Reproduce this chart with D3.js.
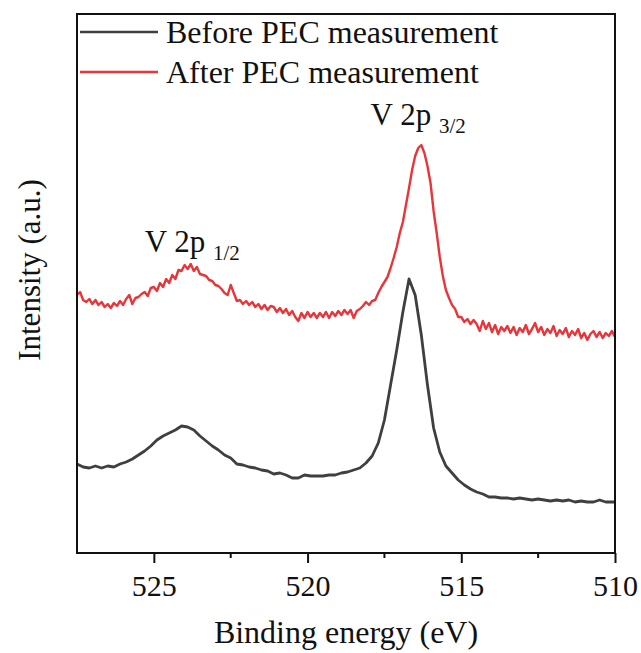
<!DOCTYPE html>
<html>
<head>
<meta charset="utf-8">
<script src="https://cdn.jsdelivr.net/npm/d3@7"></script>
<style>
  body { margin: 0; background: #fff; }
  text { font-family: "Liberation Serif", "Times New Roman", serif; fill: #111; }
</style>
</head>
<body>
<div id="chart"></div>
<script>
//////////////////////////////////////////////////////////////
//////////////////////////// Data ////////////////////////////
//////////////////////////////////////////////////////////////

// Binding energy grid of the "after" scan (eV, 0.1 eV step)
var energyAfter = [
  527.5,527.4,527.3,527.2,527.1,527.0,526.9,526.8,526.7,526.6,
  526.5,526.4,526.3,526.2,526.1,526.0,525.9,525.8,525.7,525.6,
  525.5,525.4,525.3,525.2,525.1,525.0,524.9,524.8,524.7,524.6,
  524.5,524.4,524.3,524.2,524.1,524.0,523.9,523.8,523.7,523.6,
  523.5,523.4,523.3,523.2,523.1,523.0,522.9,522.8,522.7,522.6,
  522.5,522.4,522.3,522.2,522.1,522.0,521.9,521.8,521.7,521.6,
  521.5,521.4,521.3,521.2,521.1,521.0,520.9,520.8,520.7,520.6,
  520.5,520.4,520.3,520.2,520.1,520.0,519.9,519.8,519.7,519.6,
  519.5,519.4,519.3,519.2,519.1,519.0,518.9,518.8,518.7,518.6,
  518.5,518.4,518.3,518.2,518.1,518.0,517.9,517.8,517.7,517.6,
  517.5,517.4,517.3,517.2,517.1,517.0,516.9,516.8,516.7,516.6,
  516.5,516.4,516.3,516.2,516.1,516.0,515.9,515.8,515.7,515.6,
  515.5,515.4,515.3,515.2,515.1,515.0,514.9,514.8,514.7,514.6,
  514.5,514.4,514.3,514.2,514.1,514.0,513.9,513.8,513.7,513.6,
  513.5,513.4,513.3,513.2,513.1,513.0,512.9,512.8,512.7,512.6,
  512.5,512.4,512.3,512.2,512.1,512.0,511.9,511.8,511.7,511.6,
  511.5,511.4,511.3,511.2,511.1,511.0,510.9,510.8,510.7,510.6,
  510.5,510.4,510.3,510.2,510.1,510.0
];

// After PEC measurement intensity (a.u., offset trace)
var intensityAfter = [
  258,261,253,251,254,249,253,248,251,246,
  249,245,250,247,252,248,254,258,249,255,
  256,259,261,257,265,266,262,270,266,274,
  270,278,274,283,282,288,284,289,282,286,
  279,278,277,273,272,268,267,264,260,258,
  268,260,252,253,249,252,248,251,246,249,
  244,248,243,247,246,241,245,240,244,238,
  242,236,232,240,235,241,236,240,235,240,
  236,241,235,241,237,242,238,243,239,243,
  235,242,244,247,251,248,252,253,260,266,
  271,276,285,295,306,320,331,348,365,383,
  397,405,408,400,387,370,342,320,296,277,
  263,255,248,244,236,236,231,234,229,233,
  229,222,232,224,230,221,228,219,226,222,
  227,220,226,218,225,221,228,219,224,230,
  221,226,218,224,220,227,217,223,219,225,
  216,222,218,224,215,220,213,219,222,216,
  221,215,220,217,222,216
];

// Binding energy grid of the "before" scan (eV, 0.2 eV step)
var energyBefore = [
  527.5,527.3,527.1,526.9,526.7,526.5,526.3,526.1,525.9,525.7,
  525.5,525.3,525.1,524.9,524.7,524.5,524.3,524.1,523.9,523.7,
  523.5,523.3,523.1,522.9,522.7,522.5,522.3,522.1,521.9,521.7,
  521.5,521.3,521.1,520.9,520.7,520.5,520.3,520.1,519.9,519.7,
  519.5,519.3,519.1,518.9,518.7,518.5,518.3,518.1,517.9,517.7,
  517.5,517.3,517.1,516.9,516.7,516.5,516.3,516.1,515.9,515.7,
  515.5,515.3,515.1,514.9,514.7,514.5,514.3,514.1,513.9,513.7,
  513.5,513.3,513.1,512.9,512.7,512.5,512.3,512.1,511.9,511.7,
  511.5,511.3,511.1,510.9,510.7,510.5,510.3,510.1,510.0
];

// Before PEC measurement intensity (a.u.)
var intensityBefore = [
  89,86,85,87,85,87,86,89,91,94,
  98,102,107,113,117,120,123,127,126,123,
  117,112,107,103,98,95,89,88,86,85,
  83,82,79,80,78,75,75,78,77,77,
  77,78,78,80,81,83,85,90,97,110,
  133,168,203,241,274,258,218,168,125,101,
  87,80,73,68,64,61,59,56,56,55,
  55,54,55,54,53,54,53,52,53,52,
  53,51,52,51,51,53,51,51,51
];

var seriesNames = ["Before PEC measurement", "After PEC measurement"];
var seriesColors = ["#3f3f3f", "#e8353a"];

var xTicks = [525, 520, 515, 510];
var xMinorTicks = [522.5, 517.5, 512.5];

//////////////////////////////////////////////////////////////
/////////////////////// General settings /////////////////////
//////////////////////////////////////////////////////////////

var margin = {top: 14, right: 26, bottom: 100, left: 77};
var totalWidth = 641;
var totalHeight = 653;
var width = totalWidth - margin.left - margin.right;
var height = totalHeight - margin.top - margin.bottom;

var xScale = d3.scaleLinear().domain([527.5, 510]).range([0, width]);
var yScale = d3.scaleLinear().domain([0, 539]).range([height, 0]);

var svg = d3.select("#chart").append("svg")
    .attr("width", totalWidth)
    .attr("height", totalHeight);

var g = svg.append("g")
    .attr("transform", "translate(" + margin.left + "," + margin.top + ")");

//////////////////////////////////////////////////////////////
////////////////////////// Lines /////////////////////////////
//////////////////////////////////////////////////////////////

var line = d3.line()
    .x(function(d) { return xScale(d[0]); })
    .y(function(d) { return yScale(d[1]); });

var before = energyBefore.map(function(e, i) { return [e, intensityBefore[i]]; });
var after = energyAfter.map(function(e, i) { return [e, intensityAfter[i]]; });

g.append("path")
    .datum(before)
    .attr("d", line)
    .attr("fill", "none")
    .attr("stroke", seriesColors[0])
    .attr("stroke-width", 2.8)
    .attr("stroke-linejoin", "round");

g.append("path")
    .datum(after)
    .attr("d", line)
    .attr("fill", "none")
    .attr("stroke", seriesColors[1])
    .attr("stroke-width", 2.4)
    .attr("stroke-linejoin", "round");

//////////////////////////////////////////////////////////////
////////////////////////// Axes //////////////////////////////
//////////////////////////////////////////////////////////////

//Frame
g.append("rect")
    .attr("width", width)
    .attr("height", height)
    .attr("fill", "none")
    .attr("stroke", "#111")
    .attr("stroke-width", 2);

var xAxis = d3.axisBottom(xScale)
    .tickValues(xTicks)
    .tickSize(10)
    .tickPadding(12)
    .tickFormat(d3.format("d"));

var gx = g.append("g")
    .attr("transform", "translate(0," + height + ")")
    .call(xAxis);

gx.select(".domain").remove();
gx.selectAll(".tick line").attr("stroke", "#111").attr("stroke-width", 2);
gx.selectAll(".tick text")
    .style("font-family", "Liberation Serif, serif")
    .style("font-size", "30px")
    .attr("fill", "#111");

//Minor ticks
g.selectAll(".minorTick")
    .data(xMinorTicks).enter()
    .append("line")
        .attr("class", "minorTick")
        .attr("x1", function(d) { return xScale(d); })
        .attr("x2", function(d) { return xScale(d); })
        .attr("y1", height)
        .attr("y2", height + 5)
        .attr("stroke", "#111")
        .attr("stroke-width", 2);

//Axis titles
svg.append("text")
    .attr("x", margin.left + width / 2)
    .attr("y", 643)
    .attr("text-anchor", "middle")
    .style("font-size", "32px")
    .text("Binding energy (eV)");

svg.append("text")
    .attr("transform", "translate(40,270) rotate(-90)")
    .attr("text-anchor", "middle")
    .style("font-size", "31px")
    .text("Intensity (a.u.)");

//////////////////////////////////////////////////////////////
///////////////////////// Legend /////////////////////////////
//////////////////////////////////////////////////////////////

var legend = g.selectAll(".legendItem")
    .data(seriesNames).enter()
    .append("g")
        .attr("class", "legendItem")
        .attr("transform", function(d, i) { return "translate(3," + (18 + i * 40) + ")"; });

legend.append("line")
    .attr("x1", 0)
    .attr("x2", 78)
    .attr("stroke", function(d, i) { return seriesColors[i]; })
    .attr("stroke-width", 2.5);

legend.append("text")
    .attr("x", 86)
    .attr("dy", "0.35em")
    .style("font-size", "32px")
    .text(function(d) { return d; });

//////////////////////////////////////////////////////////////
/////////////////////// Annotations //////////////////////////
//////////////////////////////////////////////////////////////

var peaks = [
  {label: "V 2p", sub: "3/2", x: 517.95, y: 428},
  {label: "V 2p", sub: "1/2", x: 525.3, y: 301}
];

var ann = g.selectAll(".peakLabel")
    .data(peaks).enter()
    .append("text")
        .attr("class", "peakLabel")
        .attr("x", function(d) { return xScale(d.x); })
        .attr("y", function(d) { return yScale(d.y); })
        .style("font-size", "31px");

ann.append("tspan").text(function(d) { return d.label + " "; });
ann.append("tspan")
    .attr("dy", 8)
    .style("font-size", "21px")
    .text(function(d) { return d.sub; });
</script>
</body>
</html>
